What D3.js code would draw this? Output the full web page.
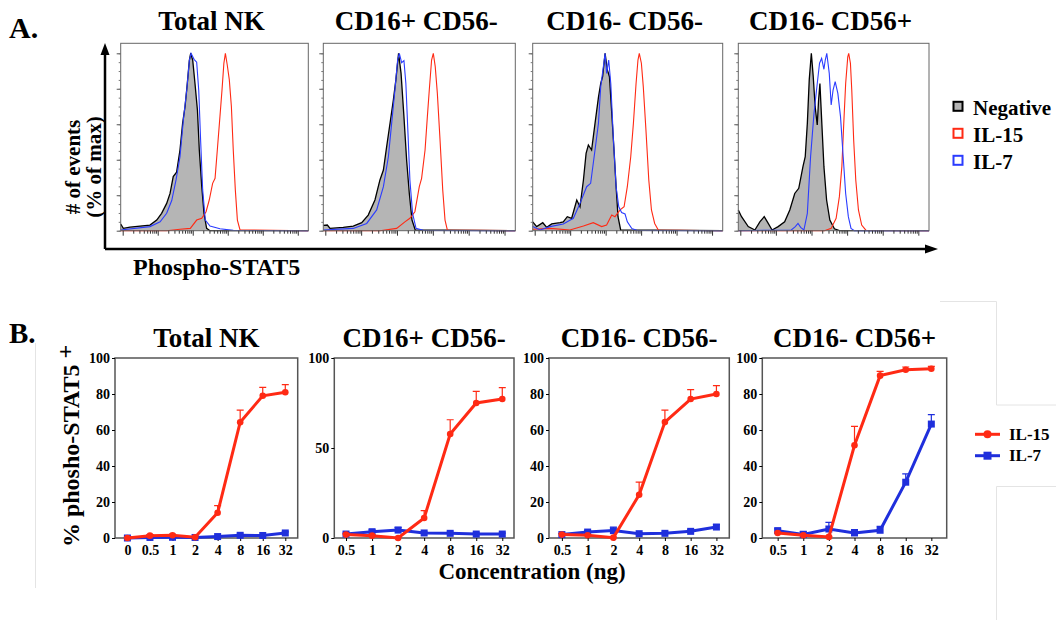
<!DOCTYPE html>
<html>
<head>
<meta charset="utf-8">
<script src="https://cdn.jsdelivr.net/npm/d3@7"></script>
<style>
body { margin: 0; background: #fff; }
svg text { font-family: "Liberation Serif", "DejaVu Serif", serif; font-weight: bold; fill: #000; }
</style>
</head>
<body>
<script>
// ---- panel A: histograms, [channel %, % of max] ----
var populations = ["Total NK", "CD16+ CD56-", "CD16- CD56-", "CD16- CD56+"];

var negTotal = [[0,3.8],[1.4,1.3],[5,2],[10.3,2.6],[15.6,3.2],[19.2,6],[21.8,9.8],[24.5,15.4],[26.3,21],[28,30.5],[29.8,33],[31.6,45.5],[33,60.5],[34.3,70],[35.5,83],[36.6,96],[37.3,100],[38.4,96],[39.6,83],[40.9,68],[41.9,45.5],[43.2,25],[44.4,9.8],[45.8,1.3],[47.6,0],[100,0]];
var il7Total = [[0,0.4],[15.6,2.3],[21,5],[24.5,9.8],[27.2,17],[29.5,28.6],[31.6,41.7],[33.4,62.4],[35.2,79.3],[36.6,96],[37.5,100],[39.1,96.6],[40.5,95],[41.6,79],[42.6,51],[43.7,23],[45.1,6],[47.6,2.6],[52.9,1.1],[60,0.2],[100,0]];
var il15Total = [[0,0],[24.5,0],[31.6,0.8],[37.1,1.3],[40.5,6],[43.2,7],[45.5,10.7],[47.2,17.3],[49,26.7],[50.3,29.5],[51.5,45.5],[52.9,64.3],[54,79.3],[55,94.4],[55.8,100],[56.8,93.4],[57.9,85],[59,70],[60,45.5],[61.1,23],[62.2,6],[63.6,0.4],[100,0]];

var negCd16 = [[0,3],[2.1,3.2],[3.5,1.3],[10.4,1.9],[15.6,2.6],[20,4.5],[23.4,8.8],[26.9,17.3],[29.5,28.6],[31.3,34.2],[33,47.4],[35,62.4],[36.5,73.7],[37.8,85],[39.2,100],[40.5,88.7],[42,64.3],[43.4,39.8],[44.8,21],[46.2,6],[47.9,0.4],[100,0]];
var il7Cd16 = [[0,0.4],[15.6,1.3],[22.6,4.1],[27.8,11.7],[31.3,24.8],[33.9,41.7],[35.6,60.5],[37.3,79.3],[38.7,96.2],[39.6,100],[40.8,94.7],[42,95.9],[43,83],[44.1,54.9],[45.1,28.6],[46.5,9.8],[48.3,1.3],[52,0.2],[100,0]];
var il15Cd16 = [[0,0],[29.5,0],[38.2,1.3],[42.5,5],[45.1,7],[47.7,10.7],[50,24.8],[51.2,29.5],[53,45.5],[54.2,64.3],[55.2,79.3],[56.4,96.2],[57.3,100],[58.3,92.5],[59.4,77.4],[60.8,51.1],[62.2,23],[63.4,6],[64.6,0.4],[100,0]];

var negDN = [[0,5],[2.1,2.3],[5.3,4.5],[7.4,1.9],[10,3.8],[14.4,4.5],[16.1,5],[18.2,7.9],[20.5,7],[23.2,17.3],[24.9,13.5],[26.7,28.6],[28.1,43.6],[29.3,48.3],[31,45.5],[32.8,60.5],[34.6,75.2],[35.8,83],[36.8,86.8],[38.1,100],[39.3,90.6],[40.4,86.8],[41.6,66.2],[42.8,45.5],[43.9,24.8],[44.9,7.9],[46.3,0.4],[100,0]];
var il7DN = [[0,2.3],[3.9,0.4],[9.1,2.3],[16.1,3.8],[21.4,7],[24.9,15.4],[28.4,24.8],[30.5,26.7],[32.8,45.5],[34.6,60.5],[35.8,81.2],[37.2,92.5],[38.1,100],[38.9,88.7],[40,96.2],[41.1,83],[42.5,51.1],[43.9,24.8],[45.3,13.5],[46.8,10.2],[48.6,9.4],[49.8,5],[52.1,1.3],[54.7,0.2],[100,0]];
var il15DN = [[0,0.8],[9.1,1.3],[19.6,0.4],[26.7,2.6],[31.9,4.5],[36.3,2.3],[38.9,3.2],[41.6,8.8],[43.3,7.9],[46,11.7],[48.1,13.5],[49.8,24.8],[51.6,41.7],[53,60.5],[54.4,83],[55.4,96.2],[56.1,100],[57.2,94.4],[58.2,81.2],[59.6,56.8],[61.1,28.6],[62.5,11.7],[64.2,4.1],[66.1,0.4],[100,0]];

var negCd56 = [[0,11.7],[1.7,7.9],[5.2,2.3],[8.7,0.4],[11.3,5],[13.6,7.9],[15.7,4.1],[17.7,0.4],[20.9,2.3],[24.3,5],[27,11.7],[29.6,21],[31.7,23.9],[33.9,36.1],[35.1,41.7],[36.2,60.5],[37.2,85],[38.3,100],[39.3,86.8],[40.3,69.9],[41.4,59.6],[42.1,73.7],[42.8,83],[43.8,60.5],[44.9,36.1],[46.3,17.3],[48,6],[50.4,1.1],[53,0],[100,0]];
var il7Cd56 = [[0,0],[27.8,0.4],[29.9,2.3],[31.3,4.1],[32.7,1.9],[34.4,0.4],[36.2,9.8],[37.9,41.7],[39.7,66.2],[41.4,83],[42.6,94.4],[43.7,97.2],[44.9,91],[45.6,96.2],[46.4,100],[47.7,88.7],[48.7,70.9],[49.7,79.3],[50.8,84],[52.2,77.4],[53.6,64.3],[55,41.7],[56.3,21],[57.7,7.9],[59.1,1.3],[60.9,0],[100,0]];
var il15Cd56 = [[0,0],[45.2,0],[48.7,1.3],[51.3,7],[53,19.2],[54.3,36.1],[55.3,60.5],[56.3,83],[57.4,98],[57.9,100],[58.8,94.4],[59.5,79.3],[60.5,51.1],[61.6,28.6],[63,11.7],[64.7,3.2],[67,0.2],[100,0]];

// ---- panel B: % phospho-STAT5+ vs concentration ----
var concAll = ["0", "0.5", "1", "2", "4", "8", "16", "32"];
var concSub = ["0.5", "1", "2", "4", "8", "16", "32"];

var il15TotalPct = [0, 1.3, 1.5, 0.4, 14, 64.3, 79, 81];
var il15TotalErr = [0.3, 0.5, 0.5, 0.3, 4, 6.7, 4.7, 4.2];
var il7TotalPct  = [0, 0.3, 0.4, 0.3, 0.8, 1.5, 1.4, 2.8];
var il7TotalErr  = [0.3, 0.3, 0.3, 0.3, 0.4, 0.5, 0.5, 0.6];

var il15Cd16Pct = [1.9, 1.3, 0, 11.1, 57.8, 75, 77.2];
var il15Cd16Err = [0.4, 0.4, 0.3, 4.1, 7.9, 6.5, 6.3];
var il7Cd16Pct  = [2.2, 3.5, 4.4, 2.8, 2.6, 2.2, 2.2];
var il7Cd16Err  = [0.5, 1, 1.5, 0.5, 0.5, 0.5, 0.5];

var il15DNPct = [1.9, 1.5, 0.2, 24, 64.4, 77.2, 80];
var il15DNErr = [0.4, 0.4, 0.3, 7, 6.6, 5.2, 4.6];
var il7DNPct  = [1.9, 3.3, 4.1, 2.4, 2.6, 3.7, 6.1];
var il7DNErr  = [0.6, 0.8, 2, 0.6, 0.6, 0.8, 1.3];

var il15Cd56Pct = [2.8, 1.5, 0.6, 51.5, 90.2, 93.5, 94];
var il15Cd56Err = [0.4, 0.4, 0.3, 10.5, 2.4, 1.5, 1.4];
var il7Cd56Pct  = [4.1, 1.9, 5, 2.8, 4.3, 31, 63.3];
var il7Cd56Err  = [1, 1.8, 3.7, 1.8, 2.2, 4.6, 5.2];

var negFill = "#b5b5b5", red = "#ff2a14", blue = "#1f2fdc";

var svg = d3.select("body").append("svg")
    .attr("width", 1056).attr("height", 620);

// faint leftovers from the composed figure
var faint = svg.append("g").attr("fill", "none").attr("stroke", "#e4e4e4").attr("stroke-width", 1);
faint.append("path").attr("d", "M35.5,343V588");
faint.append("path").attr("d", "M940,301.5H996.5V405H1056");
faint.append("path").attr("d", "M1056,486.5H996.5V620");

// ================= A =================
svg.append("text").text("A.").attr("x", 9).attr("y", 38).attr("font-size", 30);

var histBox = [{x0: 120.7, x1: 308.3}, {x0: 323.3, x1: 515.3}, {x0: 532.7, x1: 722.7}, {x0: 738.3, x1: 929}];
var histTop = 43.3, histBottom = 230.7;
var histSets = [
    {neg: negTotal, il15: il15Total, il7: il7Total},
    {neg: negCd16, il15: il15Cd16, il7: il7Cd16},
    {neg: negDN, il15: il15DN, il7: il7DN},
    {neg: negCd56, il15: il15Cd56, il7: il7Cd56}
];

histBox.forEach(function(b, i) {
    let hx = d3.scaleLinear().domain([0, 100]).range([b.x0, b.x1]);
    let hy = d3.scaleLinear().domain([0, 100]).range([histBottom, 53.3]);
    let g = svg.append("g");

    let area = d3.area().x(d => hx(d[0])).y0(hy(0)).y1(d => hy(d[1]));
    let line = d3.line().x(d => hx(d[0])).y(d => hy(d[1]));

    g.append("path").attr("d", area(histSets[i].neg)).attr("fill", negFill);
    g.append("path").attr("d", line(histSets[i].neg)).attr("fill", "none")
        .attr("stroke", "#000").attr("stroke-width", 1.3);
    g.append("path").attr("d", line(histSets[i].il15)).attr("fill", "none")
        .attr("stroke", red).attr("stroke-width", 1.1);
    g.append("path").attr("d", line(histSets[i].il7)).attr("fill", "none")
        .attr("stroke", "#2b3cff").attr("stroke-width", 1.1);

    g.append("rect").attr("x", b.x0).attr("y", histTop)
        .attr("width", b.x1 - b.x0).attr("height", histBottom - histTop)
        .attr("fill", "none").attr("stroke", "#666").attr("stroke-width", 1);

    // % of max ticks on the left
    let yt = g.append("g").attr("transform", "translate(" + b.x0 + ",0)")
        .call(d3.axisLeft(hy).tickValues(d3.range(0, 101, 20)).tickSize(4).tickFormat(""));
    yt.select(".domain").remove();
    yt.selectAll("line").attr("stroke", "#555");
    let ytm = g.append("g").attr("transform", "translate(" + b.x0 + ",0)")
        .call(d3.axisLeft(hy).tickValues(d3.range(0, 101, 5)).tickSize(2).tickFormat(""));
    ytm.select(".domain").remove();
    ytm.selectAll("line").attr("stroke", "#777");

    // log decade ticks along the bottom
    let lx = d3.scaleLog().domain([1, Math.pow(10, 5.3)]).range([b.x0 + 2, b.x1]);
    let minors = [];
    for (let k = 0; k < 6; k++) for (let m = 1; m < 10; m++) {
        let v = m * Math.pow(10, k);
        if (v <= lx.domain()[1]) minors.push(v);
    }
    let xt = g.append("g").attr("transform", "translate(0," + histBottom + ")")
        .call(d3.axisBottom(lx).tickValues(minors).tickSize(3).tickFormat(""));
    xt.select(".domain").remove();
    xt.selectAll("line").attr("stroke", "#333")
        .attr("y2", d => Math.abs(Math.log10(d) % 1) < 1e-9 ? 5 : 3);

    svg.append("text").text(populations[i])
        .attr("x", (b.x0 + b.x1) / 2 - 3).attr("y", 29.5)
        .attr("text-anchor", "middle").attr("font-size", 27);
});

// big arrow axes
svg.append("path").attr("d", "M105,249V52M105,249H928")
    .attr("fill", "none").attr("stroke", "#000").attr("stroke-width", 2.5);
svg.append("path").attr("d", "M105,43L100.5,55L109.5,55Z").attr("fill", "#000");
svg.append("path").attr("d", "M938,249L925,244.5L925,253.5Z").attr("fill", "#000");

svg.append("text").attr("transform", "translate(80,167) rotate(-90)")
    .attr("text-anchor", "middle").attr("font-size", 21).text("# of events");
svg.append("text").attr("transform", "translate(101,167) rotate(-90)")
    .attr("text-anchor", "middle").attr("font-size", 21).text("(% of max)");
svg.append("text").text("Phospho-STAT5").attr("x", 133).attr("y", 275).attr("font-size", 24);

// legend A
var legA = [{name: "Negative", fill: negFill, stroke: "#000"},
            {name: "IL-15", fill: "#fff", stroke: red},
            {name: "IL-7", fill: "#fff", stroke: "#2b3cff"}];
legA.forEach(function(d, i) {
    let cy = 106.3 + i * 27;
    svg.append("rect").attr("x", 953.5).attr("y", cy - 4.5).attr("width", 9).attr("height", 9)
        .attr("fill", d.fill).attr("stroke", d.stroke).attr("stroke-width", 2);
    svg.append("text").text(d.name).attr("x", 973).attr("y", cy + 8.5).attr("font-size", 21);
});

// ================= B =================
svg.append("text").text("B.").attr("x", 9).attr("y", 343).attr("font-size", 29);

var lineBox = [
    {x0: 115, x1: 297.7, pad: 0.55, cats: concAll, ticks: [0, 20, 40, 60, 80, 100],
     il15: il15TotalPct, il15e: il15TotalErr, il7: il7TotalPct, il7e: il7TotalErr},
    {x0: 334.3, x1: 514, pad: 0.45, cats: concSub, ticks: [0, 50, 100],
     il15: il15Cd16Pct, il15e: il15Cd16Err, il7: il7Cd16Pct, il7e: il7Cd16Err},
    {x0: 549, x1: 729.3, pad: 0.5, cats: concSub, ticks: [0, 20, 40, 60, 80, 100],
     il15: il15DNPct, il15e: il15DNErr, il7: il7DNPct, il7e: il7DNErr},
    {x0: 762.3, x1: 946.7, pad: 0.6, cats: concSub, ticks: [0, 20, 40, 60, 80, 100],
     il15: il15Cd56Pct, il15e: il15Cd56Err, il7: il7Cd56Pct, il7e: il7Cd56Err}
];
var lineTop = 358, lineBottom = 538;

lineBox.forEach(function(b, i) {
    let x = d3.scalePoint().domain(b.cats).range([b.x0, b.x1]).padding(b.pad);
    let y = d3.scaleLinear().domain([0, 100]).range([lineBottom, lineTop]);
    let g = svg.append("g");

    g.append("rect").attr("x", b.x0).attr("y", lineTop)
        .attr("width", b.x1 - b.x0).attr("height", lineBottom - lineTop)
        .attr("fill", "none").attr("stroke", "#555").attr("stroke-width", 1.5);

    let yg = g.append("g").attr("transform", "translate(" + b.x0 + ",0)")
        .call(d3.axisLeft(y).tickValues(b.ticks).tickSize(3).tickPadding(2));
    yg.select(".domain").remove();
    yg.selectAll("text").attr("font-size", 14);
    let xg = g.append("g").attr("transform", "translate(0," + lineBottom + ")")
        .call(d3.axisBottom(x).tickSize(3).tickPadding(4));
    xg.select(".domain").remove();
    xg.selectAll("text").attr("font-size", 14);

    let series = [
        {vals: b.il7, err: b.il7e, color: blue, shape: "square"},
        {vals: b.il15, err: b.il15e, color: red, shape: "circle"}
    ];
    series.forEach(function(s) {
        let pts = b.cats.map((c, j) => ({c: c, v: s.vals[j], e: s.err[j]}));
        let eb = g.append("g").attr("stroke", s.color).attr("stroke-width", 1.2);
        eb.selectAll(".eb").data(pts).enter().append("path")
            .attr("d", d => "M" + x(d.c) + "," + y(d.v) + "V" + y(d.v + d.e) +
                "M" + (x(d.c) - 3.5) + "," + y(d.v + d.e) + "H" + (x(d.c) + 3.5));
        g.append("path").datum(pts)
            .attr("d", d3.line().x(d => x(d.c)).y(d => y(d.v)))
            .attr("fill", "none").attr("stroke", s.color).attr("stroke-width", 3);
        if (s.shape === "circle") {
            g.selectAll(null).data(pts).enter().append("circle")
                .attr("cx", d => x(d.c)).attr("cy", d => y(d.v)).attr("r", 3.3)
                .attr("fill", s.color);
        } else {
            g.selectAll(null).data(pts).enter().append("rect")
                .attr("x", d => x(d.c) - 3.5).attr("y", d => y(d.v) - 3.5)
                .attr("width", 7).attr("height", 7).attr("fill", s.color);
        }
    });

    svg.append("text").text(populations[i])
        .attr("x", (b.x0 + b.x1) / 2).attr("y", 346.5)
        .attr("text-anchor", "middle").attr("font-size", 27);
});

var yLab = svg.append("text").attr("transform", "translate(79,446) rotate(-90)")
    .attr("text-anchor", "middle").attr("font-size", 24);
yLab.append("tspan").text("% phosho-STAT5 ");
yLab.append("tspan").attr("dy", -6).text("+");

svg.append("text").text("Concentration (ng)").attr("x", 532).attr("y", 579)
    .attr("text-anchor", "middle").attr("font-size", 23);

// legend B
var legB = [{name: "IL-15", color: red, shape: "circle"}, {name: "IL-7", color: blue, shape: "square"}];
legB.forEach(function(d, i) {
    let cy = 434.3 + i * 21.4;
    svg.append("path").attr("d", "M975," + cy + "H1000").attr("stroke", d.color).attr("stroke-width", 3);
    if (d.shape === "circle")
        svg.append("circle").attr("cx", 987.5).attr("cy", cy).attr("r", 4).attr("fill", d.color);
    else
        svg.append("rect").attr("x", 983.5).attr("y", cy - 4).attr("width", 8).attr("height", 8).attr("fill", d.color);
    svg.append("text").text(d.name).attr("x", 1009).attr("y", cy + 5.5).attr("font-size", 17);
});
</script>
</body>
</html>
